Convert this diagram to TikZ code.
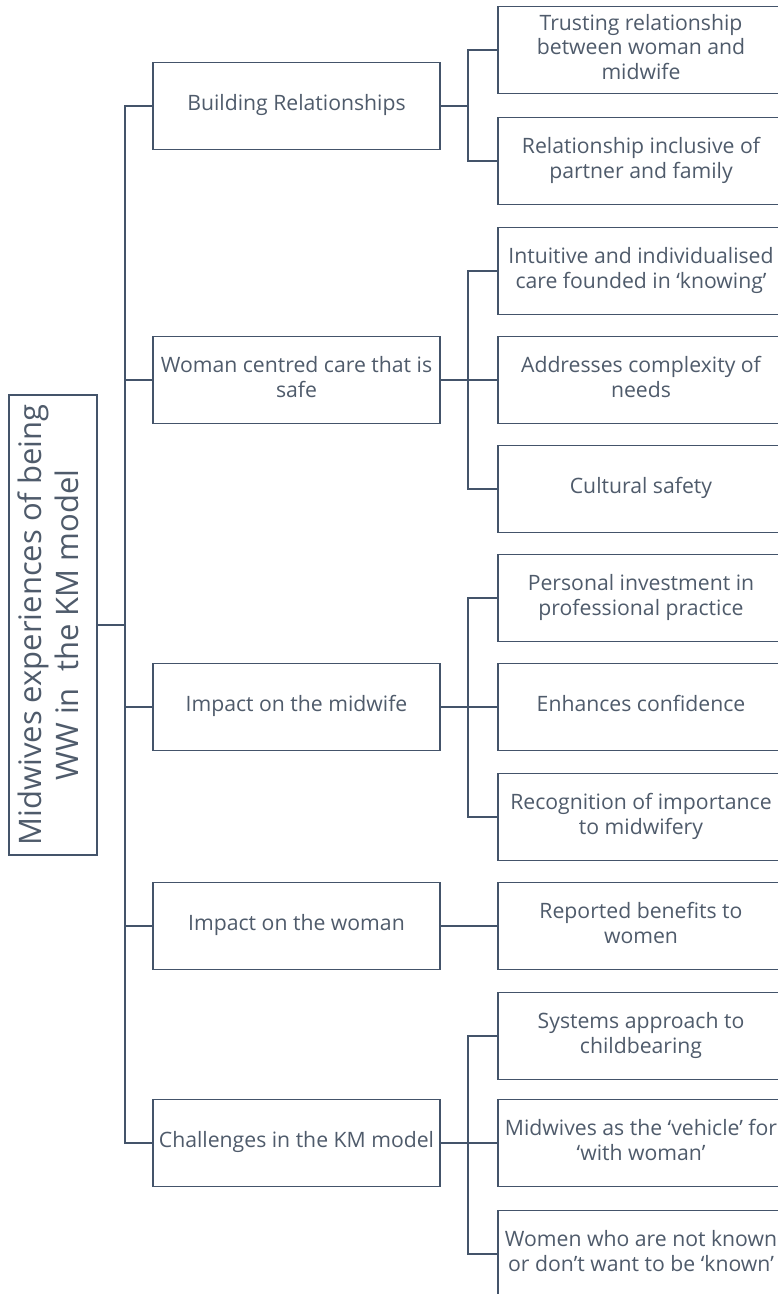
\documentclass[tikz,border=0pt]{standalone}
\usepackage{fontspec}
\setmainfont{Open Sans}
\definecolor{linec}{HTML}{44546A}
\definecolor{txtc}{HTML}{4F5B6B}
\newcommand{\ctr}[2]{\makebox[#1]{\begin{tabular}{@{}c@{}}#2\end{tabular}}}
\begin{document}
\begin{tikzpicture}[x=1pt,y=-1pt,
  lone/.style={draw=linec,line width=1.3pt,minimum width=287pt,minimum height=87pt,inner sep=0pt,text=txtc,font=\fontsize{21.2}{24.5}\selectfont},
  ltwo/.style={lone,minimum width=286pt},
  conn/.style={draw=linec,line width=1.3pt}]
\useasboundingbox (0,0) rectangle (777,1294);
\fill[white] (0,0) rectangle (777,1294);

% root
\node[lone,rotate=90,minimum width=460pt,minimum height=88pt,font=\fontsize{31}{37}\selectfont] (root) at (53,625)
  {\begin{tabular}{@{}c@{}}Midwives experiences of being\\WW in\ \ the KM model\end{tabular}};

% level 1
\node[lone] (b1) at (296.5,106) {\ctr{287pt}{Building Relationships}};
\node[lone] (b2) at (296.5,380) {\ctr{287pt}{Woman centred care that is\\safe}};
\node[lone] (b3) at (296.5,707) {\ctr{287pt}{Impact on the midwife}};
\node[lone] (b4) at (296.5,926) {\ctr{287pt}{Impact on the woman}};
\node[lone] (b5) at (296.5,1143) {\ctr{287pt}{Challenges in the KM model}};

% level 2
\node[ltwo] (c1) at (641,50) {\ctr{286pt}{Trusting relationship\\between woman and\\midwife}};
\node[ltwo] (c2) at (641,161) {\ctr{286pt}{Relationship inclusive of\\partner and family}};
\node[ltwo] (c3) at (641,271) {\ctr{286pt}{Intuitive and individualised\\care founded in ‘knowing’}};
\node[ltwo] (c4) at (641,380) {\ctr{286pt}{Addresses complexity of\\needs}};
\node[ltwo] (c5) at (641,489) {\ctr{286pt}{Cultural safety}};
\node[ltwo] (c6) at (641,598) {\ctr{286pt}{Personal investment in\\professional practice}};
\node[ltwo] (c7) at (641,707) {\ctr{286pt}{Enhances confidence}};
\node[ltwo] (c8) at (641,817) {\ctr{286pt}{Recognition of importance\\to midwifery}};
\node[ltwo] (c9) at (641,926) {\ctr{286pt}{Reported benefits to\\women}};
\node[ltwo] (c10) at (641,1036) {\ctr{286pt}{Systems approach to\\childbearing}};
\node[ltwo] (c11) at (641,1143) {\ctr{286pt}{Midwives as the ‘vehicle’ for\\‘with woman’}};
\node[ltwo] (c12) at (641,1254) {\ctr{286pt}{Women who are not known\\or don’t want to be ‘known’}};

% trunk
\coordinate (tk) at (125,625);
\draw[conn] (root.south) -- (tk);
\foreach \b in {b1,b2,b3,b4,b5} \draw[conn] (tk) |- (\b.west);

% buses
\coordinate (u1) at (468,106);
\coordinate (u2) at (468,380);
\coordinate (u3) at (468,707);
\coordinate (u5) at (468,1143);
\draw[conn] (b1.east) -- (u1);
\draw[conn] (u1) |- (c1.west);
\draw[conn] (u1) |- (c2.west);
\draw[conn] (b2.east) -- (u2);
\draw[conn] (u2) |- (c3.west);
\draw[conn] (u2) -- (c4.west);
\draw[conn] (u2) |- (c5.west);
\draw[conn] (b3.east) -- (u3);
\draw[conn] (u3) |- (c6.west);
\draw[conn] (u3) -- (c7.west);
\draw[conn] (u3) |- (c8.west);
\draw[conn] (b4.east) -- (c9.west);
\draw[conn] (b5.east) -- (u5);
\draw[conn] (u5) |- (c10.west);
\draw[conn] (u5) -- (c11.west);
\draw[conn] (u5) |- (c12.west);
\end{tikzpicture}
\end{document}
